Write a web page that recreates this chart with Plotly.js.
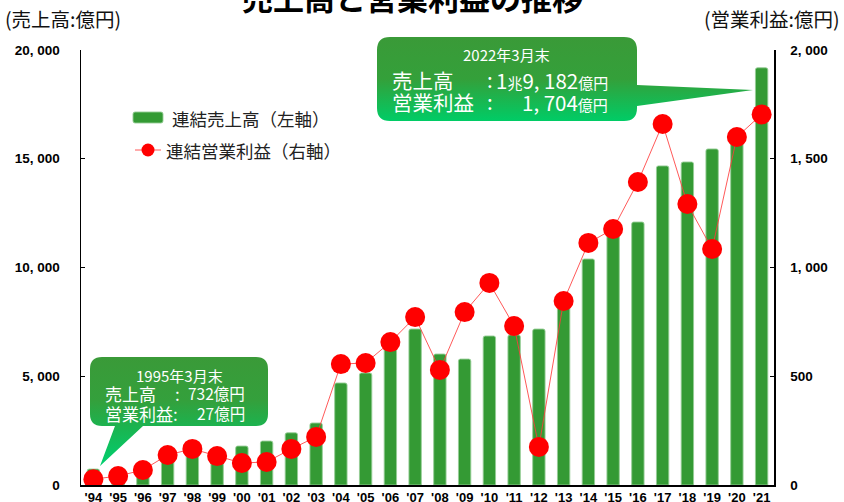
<!DOCTYPE html>
<html>
<head>
<meta charset="utf-8">
<script src="https://cdn.plot.ly/plotly-3.0.1.min.js"></script>
<style>
html,body{margin:0;padding:0;background:#fff;}
#chart{width:844px;height:502px;}
</style>
</head>
<body>
<div id="chart"></div>
<script>
// ---- data ----
const years = ["'94","'95","'96","'97","'98","'99","'00","'01","'02","'03","'04","'05","'06","'07","'08","'09","'10","'11","'12","'13","'14","'15","'16","'17","'18","'19","'20","'21"];
const sales = [732, 780, 900, 1450, 1650, 1550, 1790, 2020, 2400, 2850, 4690, 5150, 6340, 7170, 6020, 5790, 6850, 6900, 7170, 8370, 10390, 11800, 12090, 14670, 14850, 15450, 16100, 19182];
const opProfit = [27, 41, 69, 138, 166, 133, 101, 106, 166, 221, 556, 561, 657, 772, 529, 795, 929, 731, 175, 846, 1113, 1177, 1393, 1660, 1292, 1085, 1600, 1704];
const leftTickVals = [0, 5000, 10000, 15000, 20000];
const leftTickText = ["0", "5, 000", "10, 000", "15, 000", "20, 000"];
const rightTickVals = [0, 500, 1000, 1500, 2000];
const rightTickText = ["0", "500", "1, 000", "1, 500", "2, 000"];
const salesName = "連結売上高（左軸）";
const profitName = "連結営業利益（右軸）";

// ---- layout helpers (pixel -> paper) ----
const L = 81, R = 774, T = 50, B = 485;
const X = p => (p - L) / (R - L);
const Y = p => (B - p) / (B - T);
function path(cmds) {
  return cmds.map(c => {
    if (c[0] === 'Z') return 'Z';
    const pts = [];
    for (let i = 1; i < c.length; i += 2) pts.push(X(c[i]).toFixed(5) + ',' + Y(c[i + 1]).toFixed(5));
    return c[0] + pts.join(' ');
  }).join(' ');
}

const numFont = "'Liberation Sans', 'DejaVu Sans', sans-serif";
const jpFont = "'Noto Sans CJK JP', sans-serif";
const GREEN = '#349a34';

const traces = [
  {
    type: 'bar', x: years, y: sales, name: salesName, yaxis: 'y',
    marker: {color: GREEN, line: {color: 'rgba(150,205,150,0.9)', width: 1}, cornerradius: 2},
    hoverinfo: 'skip', showlegend: false
  },
  {
    type: 'scatter', mode: 'lines+markers', x: years, y: opProfit, name: profitName, yaxis: 'y2',
    line: {color: 'rgba(255,60,60,0.85)', width: 1},
    marker: {color: '#ff0000', size: 20, line: {width: 0}},
    hoverinfo: 'skip', showlegend: false
  }
];

const topCallout = path([
  ['M', 390, 37], ['L', 624, 37], ['Q', 637, 37, 637, 50], ['L', 637, 85], ['L', 753, 90],
  ['L', 637, 106], ['L', 637, 108], ['Q', 637, 121, 624, 121], ['L', 390, 121],
  ['Q', 377, 121, 377, 108], ['L', 377, 50], ['Q', 377, 37, 390, 37], ['Z']
]);
const botCallout = path([
  ['M', 102, 357], ['L', 256, 357], ['Q', 268, 357, 268, 369], ['L', 268, 414],
  ['Q', 268, 426, 256, 426], ['L', 143, 426], ['L', 100, 466], ['L', 115, 426],
  ['L', 102, 426], ['Q', 90, 426, 90, 414], ['L', 90, 369], ['Q', 90, 357, 102, 357], ['Z']
]);
const swatch = path([
  ['M', 135, 112], ['L', 161, 112], ['Q', 163, 112, 163, 114], ['L', 163, 121],
  ['Q', 163, 123, 161, 123], ['L', 135, 123], ['Q', 133, 123, 133, 121], ['L', 133, 114],
  ['Q', 133, 112, 135, 112], ['Z']
]);

const shapes = [
  {type: 'path', xref: 'paper', yref: 'paper', path: topCallout, fillcolor: '#2aa540', line: {width: 0}, layer: 'above'},
  {type: 'path', xref: 'paper', yref: 'paper', path: botCallout, fillcolor: '#2aa540', line: {width: 0}, layer: 'above'},
  {type: 'path', xref: 'paper', yref: 'paper', path: swatch, fillcolor: GREEN, line: {color: 'rgba(150,205,150,0.9)', width: 1}, layer: 'above'},
  {type: 'line', xref: 'paper', yref: 'paper', x0: X(135), x1: X(161), y0: Y(150), y1: Y(150), line: {color: 'rgba(255,60,60,0.85)', width: 1}, layer: 'above'},
  {type: 'circle', xref: 'paper', yref: 'paper', x0: X(141.5), x1: X(154.5), y0: Y(156.5), y1: Y(143.5), fillcolor: '#ff0000', line: {width: 0}, layer: 'above'}
];

function ann(text, px, py, size, anchor, color, extra) {
  return Object.assign({
    text: text, xref: 'paper', yref: 'paper', x: X(px), y: Y(py), xanchor: anchor, yanchor: 'middle',
    showarrow: false, font: {family: jpFont, size: size, color: color}, borderpad: 0
  }, extra || {});
}
const W = '#ffffff';
const small = s => "<span style='font-size:15px'>" + s + "</span>";
const annotations = [
  ann('<b>売上高と営業利益の推移</b>', 412, -3, 31, 'center', '#000'),
  ann('(売上高:億円)', 4, 19, 19.5, 'left', '#111'),
  ann('(営業利益:億円)', 841, 19, 19.5, 'right', '#111'),
  ann(salesName, 171, 118, 17.5, 'left', '#222'),
  ann(profitName, 165, 150, 17.5, 'left', '#222'),
  // top callout
  ann('2022年3月末', 507, 55, 15, 'center', W),
  ann('売上高', 391, 80, 20.5, 'left', W),
  ann(':', 490, 79, 20.5, 'center', W),
  ann('1' + small('兆') + '9, 182' + small('億円'), 609, 80, 20.5, 'right', W),
  ann('営業利益', 391, 102, 20.5, 'left', W),
  ann(':', 490, 101, 20.5, 'center', W),
  ann('1, 704' + small('億円'), 609, 102, 20.5, 'right', W),
  // bottom callout
  ann('1995年3月末', 179, 375, 15, 'center', W),
  ann('売上高', 104, 393, 17, 'left', W),
  ann(':', 177, 393, 17, 'center', W),
  ann('732億円', 246, 393, 15.5, 'right', W),
  ann('営業利益:', 104, 413, 17, 'left', W),
  ann('27億円', 246, 413, 15.5, 'right', W)
];

const tickFont = {family: numFont, size: 13.5, color: '#000', weight: 'bold'};
const layout = {
  width: 844, height: 502,
  margin: {l: L, r: 844 - R, t: T, b: 502 - B, pad: 0},
  paper_bgcolor: '#fff', plot_bgcolor: '#fff',
  bargap: 0.5,
  showlegend: false,
  xaxis: {
    type: 'category', range: [-0.5, 27.5], showline: true, linecolor: '#000', linewidth: 1.5,
    ticks: '', showgrid: false, zeroline: false, fixedrange: true,
    tickfont: {family: numFont, size: 13, color: '#000', weight: 'bold'}
  },
  yaxis: {
    range: [0, 20000], tickvals: leftTickVals, ticktext: leftTickText, showgrid: false, zeroline: false,
    showline: true, linecolor: '#000', linewidth: 1.5, ticks: 'inside', ticklen: 4, tickcolor: '#000',
    ticklabelstandoff: 17, tickfont: tickFont, fixedrange: true
  },
  yaxis2: {
    range: [0, 2000], tickvals: rightTickVals, ticktext: rightTickText, overlaying: 'y', side: 'right',
    showgrid: false, zeroline: false, showline: true, linecolor: '#000', linewidth: 1.5,
    ticks: 'inside', ticklen: 4, tickcolor: '#000', ticklabelstandoff: 12,
    tickfont: tickFont, fixedrange: true
  },
  shapes: shapes,
  annotations: annotations
};

Plotly.newPlot('chart', traces, layout, {staticPlot: true, displayModeBar: false}).then(gd => {
  const svg = gd.querySelector('svg.main-svg');
  const NS = 'http://www.w3.org/2000/svg';
  let defs = svg.querySelector('defs');
  if (!defs) { defs = document.createElementNS(NS, 'defs'); svg.insertBefore(defs, svg.firstChild); }
  function grad(id, stops) {
    const g = document.createElementNS(NS, 'linearGradient');
    g.setAttribute('id', id); g.setAttribute('x1', '0'); g.setAttribute('y1', '0');
    g.setAttribute('x2', '0'); g.setAttribute('y2', '1');
    stops.forEach(s => {
      const st = document.createElementNS(NS, 'stop');
      st.setAttribute('offset', s[0]); st.setAttribute('stop-color', s[1]);
      g.appendChild(st);
    });
    defs.appendChild(g);
  }
  grad('gTop', [[0, '#3a9a38'], [0.5, '#34a03a'], [1, '#00cc66']]);
  grad('gBot', [[0, '#3a9a38'], [0.4, '#34a03c'], [0.65, '#1ab450'], [1, '#00d070']]);
  const paths = gd.querySelectorAll('.shapelayer path');
  paths.forEach(p => {
    const idx = p.getAttribute('data-index');
    if (idx === '0') p.style.fill = 'url(#gTop)';
    if (idx === '1') p.style.fill = 'url(#gBot)';
  });
});
</script>
</body>
</html>
